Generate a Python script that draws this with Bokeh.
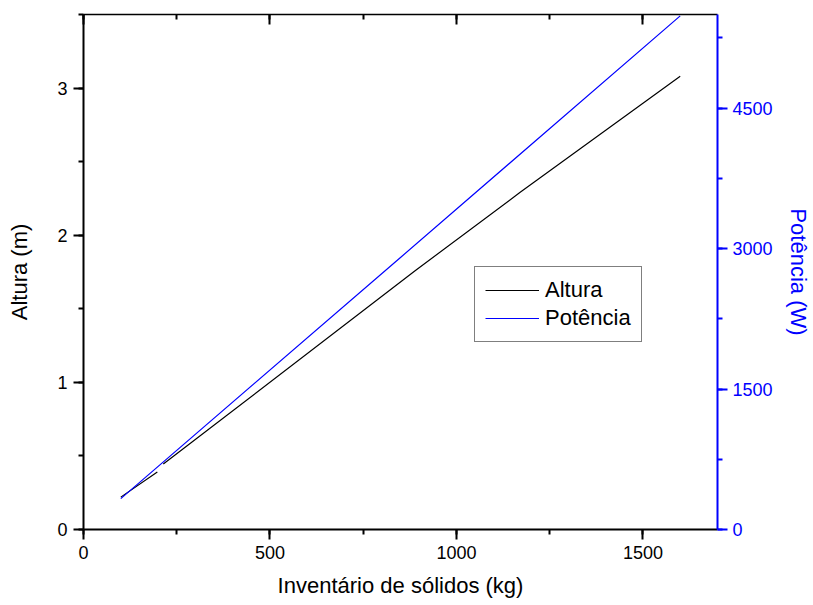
from bokeh.plotting import figure
from bokeh.models import (Range1d, LinearAxis, SingleIntervalTicker, Legend, LegendItem)
from bokeh.embed import file_html
from bokeh.resources import INLINE
import numpy as np

# Data
altura_x = [100, 198, np.nan, 214, 890, 1170, 1600]
altura_y = [0.22, 0.39, np.nan, 0.445, 1.76, 2.29, 3.08]
potencia_x = [100, 850, 1600]
potencia_y = [330, 2905, 5485]

x_ticks_interval = 500
left_ticks_interval = 1
right_ticks_interval = 1500
top_tick_values = [0, 500, 1000, 1500]

FONT = "Liberation Sans"
BLUE = "#0000FF"

p = figure(width=813, height=603, output_backend="svg", toolbar_location=None,
           x_range=Range1d(0, 1700), y_range=Range1d(0, 3.5),
           min_border_left=83, min_border_right=96, min_border_top=14, min_border_bottom=74,
           x_axis_label="Inventário de sólidos (kg)", y_axis_label="Altura (m)")
p.extra_y_ranges = {"pow": Range1d(0, 5500)}
p.grid.visible = False
p.outline_line_color = None
p.background_fill_color = "white"
p.border_fill_color = "white"

def style_axis(ax, color="black"):
    ax.axis_line_color = color
    ax.axis_line_width = 2
    ax.major_tick_line_color = color
    ax.minor_tick_line_color = color
    ax.major_tick_line_width = 2
    ax.minor_tick_line_width = 2
    ax.major_tick_out = 10
    ax.major_tick_in = 0
    ax.minor_tick_out = 5
    ax.minor_tick_in = 0
    ax.major_label_text_font = FONT
    ax.major_label_text_font_size = "18px"
    ax.major_label_text_color = color
    ax.axis_label_text_font = FONT
    ax.axis_label_text_font_size = "22px"
    ax.axis_label_text_font_style = "normal"
    ax.axis_label_text_color = color

xa = p.xaxis[0]
xa.ticker = SingleIntervalTicker(interval=x_ticks_interval, num_minor_ticks=2)
style_axis(xa)
xa.major_label_standoff = 6
xa.axis_label_standoff = 11

ya = p.yaxis[0]
ya.ticker = SingleIntervalTicker(interval=left_ticks_interval, num_minor_ticks=2)
style_axis(ya)
ya.major_label_standoff = 6
ya.axis_label_standoff = 22

ra = LinearAxis(y_range_name="pow", axis_label="Potência (W)",
                ticker=SingleIntervalTicker(interval=right_ticks_interval, num_minor_ticks=2))
style_axis(ra, BLUE)
ra.major_label_standoff = 5
ra.axis_label_standoff = 10
p.add_layout(ra, "right")

ta = LinearAxis(ticker=SingleIntervalTicker(interval=x_ticks_interval, num_minor_ticks=2))
style_axis(ta)
ta.major_tick_out = 0
ta.major_tick_in = 10
ta.minor_tick_out = 0
ta.minor_tick_in = 5
ta.major_label_overrides = {v: "" for v in top_tick_values}
ta.major_label_text_font_size = "1px"
ta.major_label_standoff = 0
ta.axis_line_width = 1.5
p.add_layout(ta, "above")

r1 = p.line(altura_x, altura_y, line_color="black", line_width=1.2)
r2 = p.line(potencia_x, potencia_y, line_color=BLUE, line_width=1.2, y_range_name="pow")

legend = Legend(items=[LegendItem(label="Altura", renderers=[r1]),
                       LegendItem(label="Potência", renderers=[r2])],
                location=(391, 187))
legend.label_text_font = FONT
legend.label_text_font_size = "22px"
legend.label_text_color = "black"
legend.glyph_width = 54
legend.glyph_height = 22
legend.label_height = 22
legend.label_standoff = 6
legend.spacing = 2
legend.padding = 10
legend.margin = 0
legend.border_line_color = "black"
legend.border_line_width = 1
legend.background_fill_alpha = 1
p.add_layout(legend, "center")

open("out.html", "w").write(file_html(p, INLINE))
